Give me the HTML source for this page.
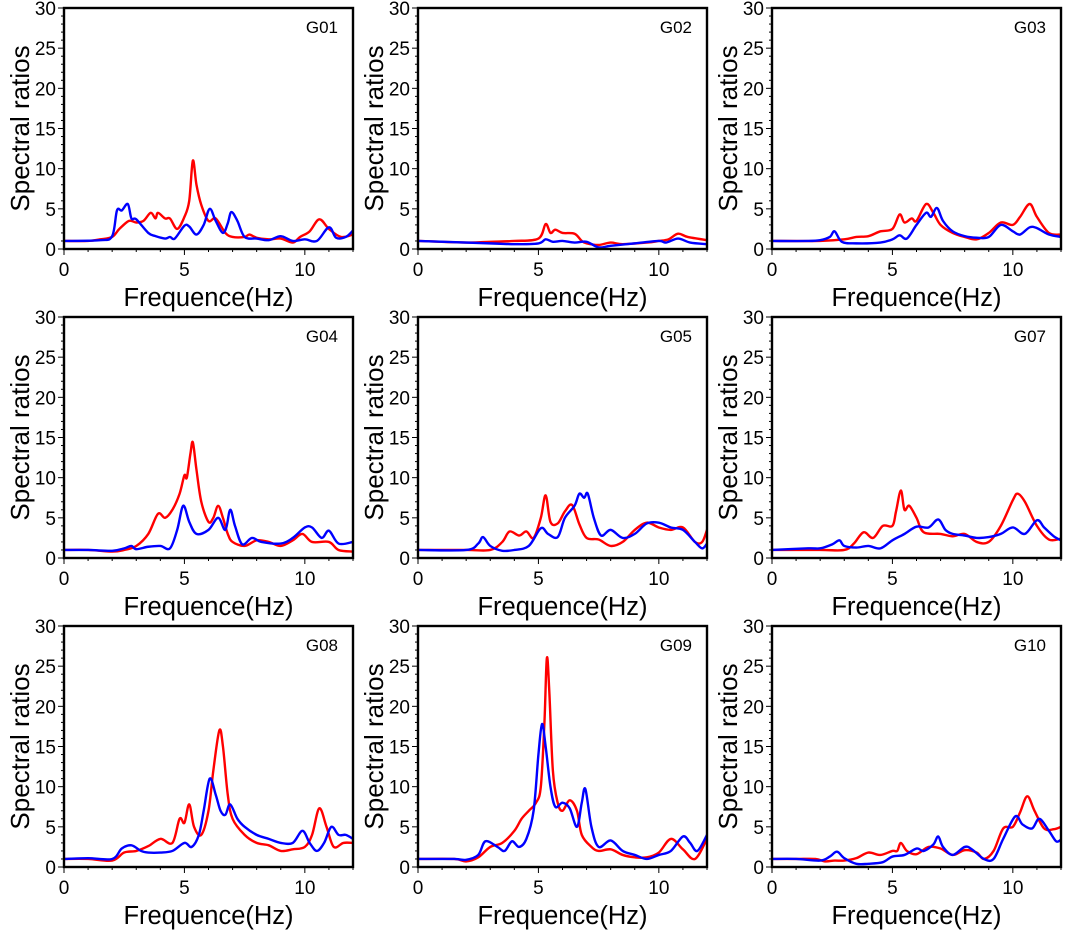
<!DOCTYPE html>
<html><head><meta charset="utf-8"><style>
html,body{margin:0;padding:0;background:#fff}
svg{display:block;font-family:"Liberation Sans",Arial,sans-serif}
</style></head><body>
<svg id="chart" width="1065" height="930" viewBox="0 0 1065 930" xmlns="http://www.w3.org/2000/svg"></svg>
<script>
const panelNames = ["G01","G02","G03","G04","G05","G07","G08","G09","G10"];
const xTicks = [0,5,10];
const yTicks = [0,5,10,15,20,25,30];
const redG01 = [[0,1],[1,1],[1.5,1.2],[2,1.5],[2.3,2.5],[2.7,3.5],[3,3.3],[3.3,3.5],[3.6,4.5],[3.8,3.8],[3.9,4.5],[4.2,3.8],[4.4,3.8],[4.7,2.5],[5,4],[5.2,6],[5.35,11],[5.5,8],[5.7,5.5],[6,3.5],[6.3,3.8],[6.7,2],[7,1.5],[7.5,1.5],[7.7,1.8],[8,1.4],[8.5,1.2],[9,1.3],[9.5,0.8],[9.8,1.5],[10.2,2.2],[10.6,3.7],[11,2.5],[11.5,1.5],[12,1.8]];
const blueG01 = [[0,1],[1.5,1.1],[2,1.6],[2.2,4.8],[2.4,4.8],[2.65,5.6],[2.8,3.8],[3,3.7],[3.5,2],[3.8,1.6],[4.2,1.3],[4.4,1.5],[4.6,1.3],[5,2.9],[5.2,2.8],[5.5,1.8],[5.8,3],[6.05,5],[6.3,3.5],[6.6,2],[6.8,3.2],[6.95,4.6],[7.2,3.5],[7.5,1.5],[8,1.3],[8.5,1.1],[9,1.6],[9.5,1],[10,1.2],[10.5,1],[11,2.7],[11.3,1.4],[11.7,1.5],[12,2.3]];
const redG02 = [[0,1],[2,0.8],[3,0.9],[4,1],[5,1.3],[5.3,3.1],[5.5,2],[5.7,2.4],[6,2],[6.5,1.9],[6.8,1],[7,0.7],[7.5,0.5],[8,0.8],[8.5,0.6],[9.5,0.8],[10,1],[10.4,1.2],[10.8,1.9],[11.2,1.5],[12,1.1]];
const blueG02 = [[0,1],[3,0.7],[4,0.6],[5,0.7],[5.3,1.2],[5.6,0.9],[6,1],[6.5,0.8],[7,0.9],[7.5,0.2],[8,0.4],[9,0.7],[10,1],[10.3,0.8],[10.8,1.3],[11.3,0.8],[12,0.6]];
const redG03 = [[0,1],[2,1],[3,1.2],[3.5,1.5],[4,1.6],[4.5,2.2],[5,2.5],[5.3,4.3],[5.5,3.3],[5.8,3.8],[6,3.5],[6.4,5.6],[6.7,4.5],[7,3],[7.5,2],[8,1.5],[8.5,1.2],[9,2],[9.5,3.3],[10,3],[10.3,4],[10.7,5.6],[11,4],[11.5,2],[12,1.8]];
const blueG03 = [[0,1],[1.5,1],[2,1.1],[2.4,1.5],[2.6,2.2],[2.9,0.9],[3.5,0.7],[4.5,0.8],[5,1.2],[5.3,1.7],[5.6,1.3],[6,3],[6.4,4.5],[6.6,4],[6.85,5.1],[7.1,3.5],[7.5,2.2],[8,1.6],[8.5,1.4],[9,1.5],[9.5,3],[10,2.2],[10.3,1.8],[10.7,2.7],[11,2.6],[11.5,1.8],[12,1.5]];
const redG04 = [[0,1],[1,1],[2,0.8],[2.5,1],[3,1.5],[3.5,3],[3.9,5.5],[4.2,5],[4.5,6],[4.8,8],[5,10.3],[5.1,10],[5.25,13],[5.35,14.4],[5.5,11],[5.7,7],[6,4.5],[6.2,5],[6.4,6.5],[6.6,5],[6.8,3],[7,2],[7.5,1.5],[8,2.2],[8.5,2],[9,1.5],[9.5,2.2],[9.9,3],[10.3,2],[11,2],[11.4,1],[12,0.8]];
const blueG04 = [[0,1],[1,1],[2,0.9],[2.5,1.2],[2.8,1.5],[3,1.1],[3.5,1.4],[4,1.5],[4.4,1.2],[4.7,3.5],[4.95,6.5],[5.2,4.5],[5.5,3],[6,3.5],[6.4,5],[6.7,3.5],[6.9,6],[7.1,4],[7.4,1.7],[7.8,2.5],[8.2,2],[9,1.8],[9.5,2.5],[10,3.8],[10.3,3.8],[10.7,2.5],[11,3.4],[11.4,1.8],[12,2]];
const redG05 = [[0,1],[2,1],[3,1],[3.5,2],[3.8,3.3],[4.2,2.8],[4.5,3.3],[4.8,2.5],[5.1,5],[5.3,7.8],[5.5,4.5],[5.8,4.3],[6.1,5.8],[6.4,6.6],[6.7,4.2],[7,2.5],[7.5,2.3],[8,1.5],[8.5,2],[9,3.5],[9.5,4.4],[10,3.8],[10.5,3.5],[11,3.8],[11.5,2],[11.8,2],[12,3.5]];
const blueG05 = [[0,1],[2,1],[2.5,1.8],[2.7,2.6],[3,1.5],[3.5,0.9],[4,1],[4.6,1.5],[5.1,3.7],[5.4,3],[5.8,2.6],[6.1,5],[6.5,6.5],[6.7,8],[6.9,7.5],[7.05,8],[7.3,5],[7.6,2.8],[8,3.5],[8.5,2.5],[9,3],[9.5,4.3],[10,4.4],[10.5,3.8],[11,3.5],[11.5,2],[11.8,1.2],[12,1.8]];
const redG07 = [[0,1],[2,1],[3,1],[3.4,1.8],[3.8,3.2],[4.2,2.5],[4.6,4],[5,4],[5.15,5.8],[5.35,8.4],[5.5,6],[5.7,6.5],[6,5],[6.3,3.2],[7,3],[7.5,2.7],[8,3],[8.5,2],[9,2],[9.5,4],[10,7.2],[10.2,8],[10.5,7],[11,4],[11.5,2.3],[12,2.4]];
const blueG07 = [[0,1],[1.5,1.2],[2,1.2],[2.5,1.7],[2.8,2.2],[3,1.5],[3.5,1.3],[4,1.5],[4.5,1.2],[5,2.2],[5.5,3],[6,3.9],[6.5,3.8],[6.9,4.8],[7.2,3.5],[7.5,3],[8,2.8],[8.5,2.5],[9,2.6],[9.5,3],[10,3.8],[10.5,3],[11,4.7],[11.3,3.8],[11.7,2.7],[12,2.2]];
const redG08 = [[0,1],[1,1],[2,0.8],[2.5,1.8],[3,2],[3.5,2.6],[4,3.5],[4.5,3],[4.8,6],[5,5.5],[5.2,7.8],[5.4,5],[5.7,4],[6,7],[6.2,12],[6.45,17],[6.6,15],[6.8,9],[7,6],[7.5,4],[8,3],[8.5,2.7],[9,2],[9.5,2.2],[10,2.5],[10.3,4],[10.6,7.3],[10.9,5],[11.2,2.5],[11.6,3],[12,3]];
const blueG08 = [[0,1],[1,1.1],[2,1],[2.4,2.3],[2.8,2.7],[3.2,2],[3.5,1.8],[4,1.8],[4.5,2],[5,3],[5.3,2.5],[5.6,4],[5.8,7],[6.05,11],[6.3,9],[6.5,7],[6.7,6.5],[6.9,7.8],[7.2,6],[7.5,5],[8,4],[8.5,3.5],[9,3],[9.5,3],[9.9,4.5],[10.2,3],[10.5,2],[10.8,3],[11.1,5],[11.4,4],[11.7,4],[12,3.5]];
const redG09 = [[0,1],[1.5,1],[2,0.7],[2.5,1.2],[3,2.5],[3.5,3],[4,4.5],[4.3,6],[4.6,7],[4.9,8],[5.1,10],[5.25,18],[5.35,26],[5.45,22],[5.6,12],[5.8,8],[6,7],[6.3,8.3],[6.6,7],[6.8,4],[7.2,2.5],[7.5,2],[8,2.2],[8.5,1.5],[9,1.2],[9.5,1.2],[10,1.8],[10.5,3.5],[11,2.2],[11.5,1],[12,3.5]];
const blueG09 = [[0,1],[1.5,1],[2,0.9],[2.5,1.5],[2.8,3.2],[3.3,2.5],[3.6,2],[3.9,3.2],[4.2,2.5],[4.5,3.5],[4.8,7],[5.0,14],[5.15,17.8],[5.3,15],[5.5,10],[5.7,7.5],[6,8],[6.3,7.3],[6.6,5],[6.8,8],[6.95,9.7],[7.2,5],[7.5,2.5],[8,3.3],[8.5,2],[9,1.5],[9.5,1],[10,1.5],[10.5,2],[11,3.8],[11.3,3],[11.6,2],[12,4]];
const redG10 = [[0,1],[1,1],[1.8,1],[2.2,0.7],[2.6,0.8],[3,0.8],[3.5,1.1],[4,1.8],[4.5,1.5],[5,2],[5.2,2],[5.35,3],[5.6,2],[6,1.6],[6.5,2.5],[7,2.3],[7.5,1.5],[8,2.1],[8.5,1.8],[8.8,1],[9.2,2],[9.6,4.8],[10,5],[10.3,6.8],[10.6,8.8],[10.9,7],[11.3,4.8],[11.7,4.7],[12,5]];
const blueG10 = [[0,1],[1,1],[2,0.8],[2.4,1.3],[2.7,1.9],[3,1.1],[3.5,0.4],[4,0.4],[4.6,0.6],[5,1.3],[5.5,1.5],[6,2.3],[6.3,2],[6.7,2.8],[6.9,3.8],[7.1,2.5],[7.5,1.5],[8,2.5],[8.3,2.2],[8.8,1],[9.2,1],[9.6,3.5],[10.1,6.3],[10.4,5.3],[10.8,4.8],[11.1,6],[11.5,4.5],[11.8,3.2],[12,3.4]];
const redSeries = [redG01,redG02,redG03,redG04,redG05,redG07,redG08,redG09,redG10];
const blueSeries = [blueG01,blueG02,blueG03,blueG04,blueG05,blueG07,blueG08,blueG09,blueG10];

const NS = "http://www.w3.org/2000/svg";
const svg = document.getElementById('chart');
const colLeft = [64,418,772], W = 289;
const rowTop = [8,317,626], H = 241;
function mk(tag, attrs, parent){const e=document.createElementNS(NS,tag);for(const k in attrs)e.setAttribute(k,attrs[k]);parent.appendChild(e);return e;}
function smoothPath(pts){
  let d = "M"+pts[0][0].toFixed(2)+","+pts[0][1].toFixed(2);
  for(let i=0;i<pts.length-1;i++){
    const p0=pts[Math.max(0,i-1)],p1=pts[i],p2=pts[i+1],p3=pts[Math.min(pts.length-1,i+2)];
    const c1x=p1[0]+(p2[0]-p0[0])/6, c1y=p1[1]+(p2[1]-p0[1])/6;
    const c2x=p2[0]-(p3[0]-p1[0])/6, c2y=p2[1]-(p3[1]-p1[1])/6;
    d+=" C"+c1x.toFixed(2)+","+c1y.toFixed(2)+" "+c2x.toFixed(2)+","+c2y.toFixed(2)+" "+p2[0].toFixed(2)+","+p2[1].toFixed(2);
  }
  return d;
}
panelNames.forEach((name, i) => {
  const L = colLeft[i%3], T = rowTop[Math.floor(i/3)];
  const xs = v => L + v/12*W;
  const ys = v => T + H - v/30*H;
  const g = mk('g',{},svg);
  
  
  const clipId = 'clip'+i;
  const cp = mk('clipPath',{id:clipId},g);
  mk('rect',{x:L,y:T,width:W,height:H},cp);
  for(let v=0; v<=30; v++){
    const major = v%5===0;
    const t = mk('line',{x1:L,x2:L-(major?6:3),y1:ys(v),y2:ys(v),stroke:'#000','stroke-width':1},g);
    
    
  }
  for(let v=0; v<=12; v++){
    const major = v%5===0;
    const t = mk('line',{x1:xs(v),x2:xs(v),y1:T+H,y2:T+H+(major?6:3),stroke:'#000','stroke-width':1},g);
    
    
  }
  yTicks.forEach(v=>{
    const t = mk('text',{x:L-8,y:ys(v)+7,'text-anchor':'end','font-size':19},g);
    t.textContent=v;
    
    
  });
  xTicks.forEach(v=>{
    const t = mk('text',{x:xs(v),y:T+H+27,'text-anchor':'middle','font-size':19},g);
    t.textContent=v;
    
    
  });
  const xt = mk('text',{x:L+W/2,y:T+H+57,'text-anchor':'middle','font-size':25.5},g);
  xt.textContent='Frequence(Hz)';
  
  
  const yt = mk('text',{x:0,y:0,'text-anchor':'middle','font-size':26,transform:`translate(${L-35},${T+H/2}) rotate(-90)`},g);
  yt.textContent='Spectral ratios';
  
  
  const pl = mk('text',{x:L+W-15,y:T+25,'text-anchor':'end','font-size':17},g);
  pl.textContent=name;
  
  
  const rl = mk('path',{d:smoothPath(redSeries[i].map(p=>[xs(p[0]),ys(p[1])])),fill:'none',stroke:'#ff0000','stroke-width':2.4,'clip-path':`url(#${clipId})`},g);
  
  
  const bl = mk('path',{d:smoothPath(blueSeries[i].map(p=>[xs(p[0]),ys(p[1])])),fill:'none',stroke:'#0000ff','stroke-width':2.4,'clip-path':`url(#${clipId})`},g);
  
  
  const fr = mk('rect',{x:L,y:T,width:W,height:H,fill:'none',stroke:'#000','stroke-width':2.4},g);
  
  
});
</script>
</body></html>
